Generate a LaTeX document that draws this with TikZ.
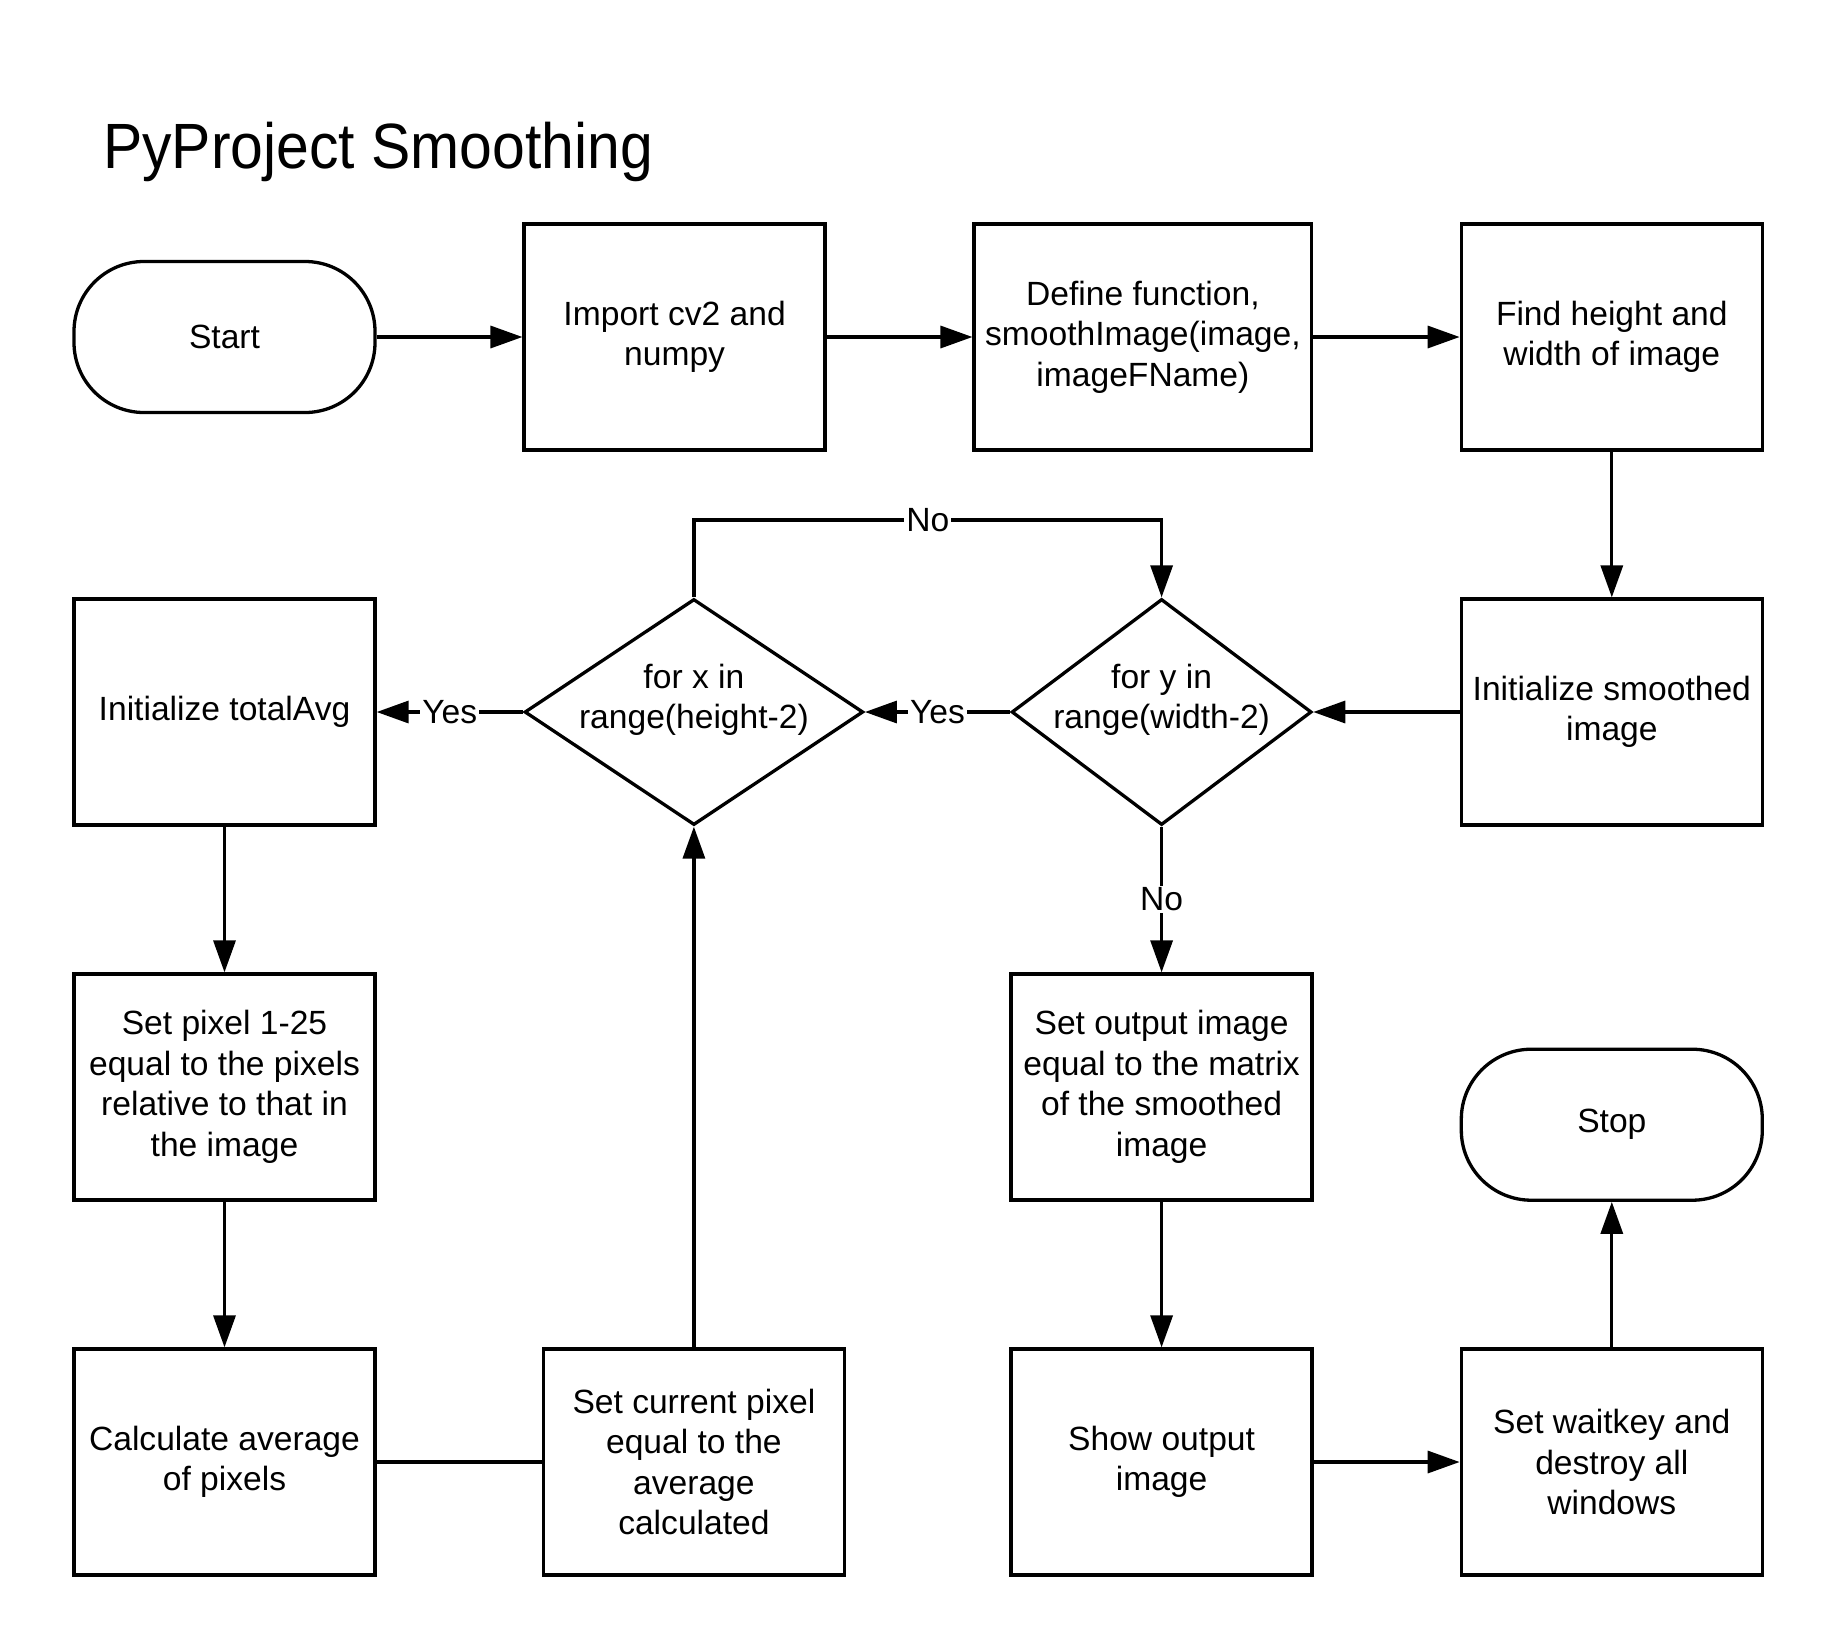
\documentclass[tikz,border=0pt]{standalone}
\usepackage{fontspec}
\setmainfont{Liberation Sans}
\newfontfamily\titlefont[FakeStretch=0.92]{Liberation Sans}
\usetikzlibrary{arrows.meta,shapes.geometric}
\begin{document}
\begin{tikzpicture}[x=1pt,y=-1pt,
  txtfont/.style={font=\fontsize{33.6}{40.5}\selectfont},
  box/.style={draw, line width=3.3pt, minimum width=301pt, minimum height=226pt, align=center, inner sep=0pt, txtfont},
  term/.style={box, minimum height=151pt, rounded corners=70pt},
  dia/.style={draw, diamond, line width=3.3pt, minimum width=300pt, minimum height=226pt, inner sep=0pt},
  txt/.style={align=center, inner sep=0pt, txtfont},
  con/.style={line width=3.3pt},
  arr/.style={con, -{Triangle[length=32pt,width=22pt]}},
  lbl/.style={fill=white, inner sep=2pt, txtfont}
]
\path[use as bounding box] (0,0) rectangle (1838,1650);

\node[anchor=base west, inner sep=0pt, font=\titlefont\fontsize{64}{70}\selectfont] (title) at (103,168) {PyProject Smoothing};

\node[term] (start) at (224.5,337) {Start};
\node[box] (imp) at (674.6,337) {Import cv2 and\\numpy};
\node[box, minimum width=337.6pt] (def) at (1142.9,337) {Define function,\\smoothImage(image,\\imageFName)};
\node[box] (find) at (1611.8,337) {Find height and\\width of image};
\node[box] (ism) at (1611.8,712) {Initialize smoothed\\image};
\node[dia] (dy) at (1161.6,712) {};
\node[txt] (dyt) at (1161.6,700) {for y in\\range(width-2)};
\node[dia, minimum width=338.7pt] (dx) at (693.9,712) {};
\node[txt] (dxt) at (693.9,700) {for x in\\range(height-2)};
\node[box] (tav) at (224.5,712) {Initialize totalAvg};
\node[box] (spx) at (224.5,1087) {Set pixel 1-25\\equal to the pixels\\relative to that in\\the image};
\node[box] (cal) at (224.5,1462) {Calculate average\\of pixels};
\node[box] (scp) at (693.9,1462) {Set current pixel\\equal to the\\average\\calculated};
\node[box] (sout) at (1161.6,1087) {Set output image\\equal to the matrix\\of the smoothed\\image};
\node[box] (show) at (1161.6,1462) {Show output\\image};
\node[box] (wk) at (1611.8,1462) {Set waitkey and\\destroy all\\windows};
\node[term] (stop) at (1611.8,1124.7) {Stop};

\draw[arr] (start) -- (imp);
\draw[arr] (imp) -- (def);
\draw[arr] (def) -- (find);
\draw[arr] (find) -- (ism);
\draw[arr] (ism) -- (dy);
\draw[arr] (dy) -- node[lbl] {Yes} (dx);
\draw[arr] (dx) -- node[lbl] {Yes} (tav);
\draw[arr] (dx.north) -- ++(0,-77.4) -| node[lbl, pos=0.25] {No} (dy.north);
\draw[arr] (dy.south) -- node[lbl] {No} (sout.north);
\draw[arr] (tav) -- (spx);
\draw[arr] (spx) -- (cal);
\draw[con] (cal) -- (scp);
\draw[arr] (scp) -- (dx.south);
\draw[arr] (sout) -- (show);
\draw[arr] (show) -- (wk);
\draw[arr] (wk) -- (stop);
\end{tikzpicture}
\end{document}
